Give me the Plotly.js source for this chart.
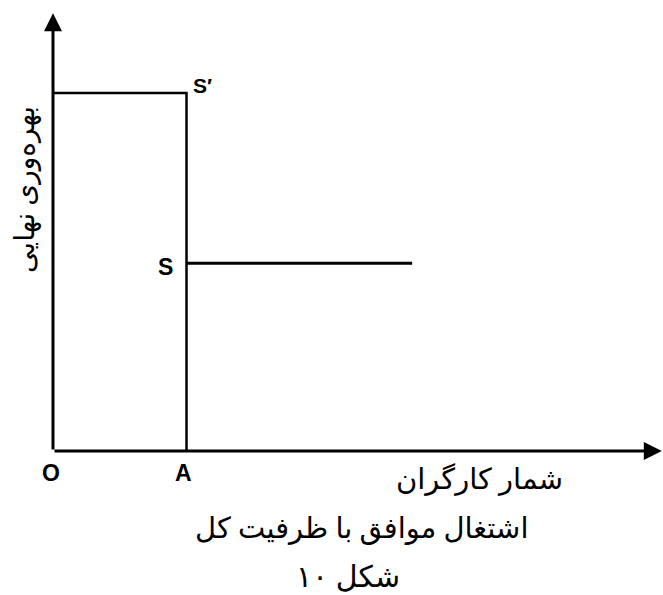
<!DOCTYPE html>
<html>
<head>
<meta charset="utf-8">
<script src="https://cdn.plot.ly/plotly-3.0.1.min.js"></script>
<style>html,body{margin:0;padding:0;background:#fff;}#chart{width:663px;height:595px;}</style>
</head>
<body>
<div id="chart"></div>
<script>
// --- data (employment in units of OA, marginal productivity in units of OS') ---
const pointLabels = ['O', 'A'];
const pointX = [0, 1];
const levelLabels = ['S′', 'S'];
const levelY = [1.0, 0.525];          // S' (high), S (low)
const sLineEndX = 2.69;               // horizontal S segment end
const axisMaxX = 4.56;
const axisMaxY = 1.223;
const yTitle = 'بهره‌وری نهایی';
const xTitle = 'شمار کارگران';
const caption = 'اشتغال موافق با ظرفیت کل';
const figLabel = 'شکل ۱۰';

const arabicFont = 'Liberation Serif, DejaVu Serif, DejaVu Sans, serif';
const latinFont = 'Liberation Sans, Arial, sans-serif';

const traces = [
  { // rectangle top and vertical at A
    x: [pointX[0], pointX[1], pointX[1]],
    y: [levelY[0], levelY[0], 0],
    mode: 'lines', line: {color: '#000', width: 2.5}, hoverinfo: 'skip'
  },
  { // horizontal S line
    x: [pointX[1], sLineEndX],
    y: [levelY[1], levelY[1]],
    mode: 'lines', line: {color: '#000', width: 3}, hoverinfo: 'skip'
  }
];

function lbl(x, y, text, size) {
  return {x: x, y: y, xref: 'x', yref: 'y', xanchor: 'center', yanchor: 'middle', text: text, showarrow: false,
          font: {family: latinFont, size: size, color: '#000', weight: 'bold'}};
}
function ptxt(px, py, text, size, angle) {
  return {x: px / 663, y: 1 - py / 595, xref: 'paper', yref: 'paper', xanchor: 'center', yanchor: 'middle',
          text: text, showarrow: false, textangle: angle || 0,
          font: {family: arabicFont, size: size, color: '#000'}};
}

const layout = {
  width: 663, height: 595,
  margin: {l: 0, r: 0, t: 0, b: 0},
  paper_bgcolor: '#fff', plot_bgcolor: '#fff',
  showlegend: false,
  xaxis: {range: [-0.397, 4.569], visible: false, fixedrange: true},
  yaxis: {range: [-0.402, 1.260], visible: false, fixedrange: true},
  annotations: [
    {x: 0, y: axisMaxY, ax: 0, ay: 0, xref: 'x', yref: 'y', axref: 'x', ayref: 'y',
     showarrow: true, arrowhead: 2, arrowsize: 1.2, arrowwidth: 3, arrowcolor: '#000', text: ''},
    {x: axisMaxX, y: 0, ax: 0, ay: 0, xref: 'x', yref: 'y', axref: 'x', ayref: 'y',
     showarrow: true, arrowhead: 2, arrowsize: 1.2, arrowwidth: 3, arrowcolor: '#000', text: ''},
    lbl(pointX[0] - 0.015, -0.061, pointLabels[0], 23),
    lbl(pointX[1] - 0.02, -0.061, pointLabels[1], 23),
    lbl(pointX[1] + 0.116, levelY[0] + 0.022, levelLabels[0], 21),
    lbl(pointX[1] - 0.154, levelY[1] - 0.011, levelLabels[1], 23),
    ptxt(25, 190, yTitle, 28, -90),
    ptxt(479, 479, xTitle, 29),
    ptxt(362, 528, caption, 29),
    ptxt(348, 576, figLabel, 30)
  ]
};

Plotly.newPlot('chart', traces, layout, {staticPlot: true, displayModeBar: false});
</script>
</body>
</html>
